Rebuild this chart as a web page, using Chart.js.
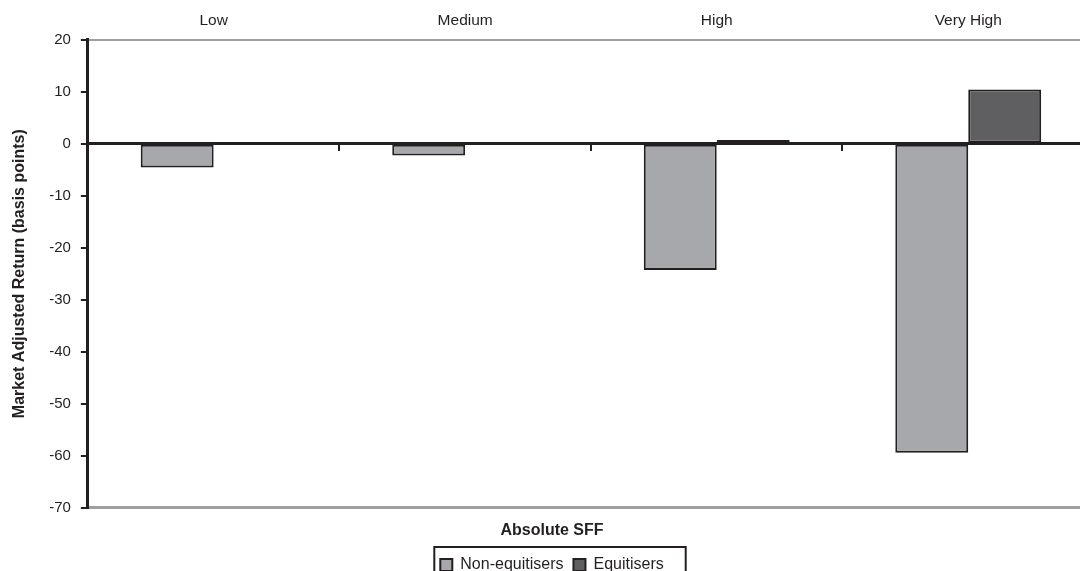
<!DOCTYPE html>
<html>
<head>
<meta charset="utf-8">
<script src="https://cdn.jsdelivr.net/npm/chart.js@4.4.1/dist/chart.umd.min.js"></script>
<style>
  html, body { margin: 0; padding: 0; background: #fff; }
  #wrap { width: 1080px; height: 571px; overflow: hidden; position: relative; }
  canvas { display: block; }
</style>
</head>
<body>
<div id="wrap"><canvas id="sffChart" width="1094" height="583"></canvas></div>
<script>
// values
const categories = ['Low', 'Medium', 'High', 'Very High'];
const nonEquitisers = [-4.6, -2.3, -24.3, -59.4];
const equitisers = [0.3, 0.2, 0.7, 10.4];
const yMin = -70;
const yMax = 20;
const yStep = 10;

const ink = '#231f20';
const rule = '#9d9ea1';

Chart.defaults.font.family = '"Liberation Sans", Arial, sans-serif';
Chart.defaults.color = ink;

// draws the thin frame that sits round the legend
const legendFrame = {
    id: 'legendFrame',
    afterDraw(chart) {
        const boxes = chart.legend.legendHitBoxes;
        if (!boxes || !boxes.length) return;
        const left = Math.min(...boxes.map(b => b.left)) - 6;
        const right = Math.max(...boxes.map(b => b.left + b.width)) + 22;
        const top = boxes[0].top - 10;
        const ctx = chart.ctx;
        ctx.save();
        ctx.strokeStyle = ink;
        ctx.lineWidth = 2;
        ctx.strokeRect(left, top, right - left, 60);
        ctx.restore();
    }
};

const data = {
    labels: categories,
    datasets: [
        {
            label: 'Non-equitisers',
            data: nonEquitisers,
            backgroundColor: '#a7a8ab',
            borderColor: ink,
            borderWidth: 2,
            borderSkipped: false
        },
        {
            label: 'Equitisers',
            data: equitisers,
            backgroundColor: '#5f5f62',
            borderColor: ink,
            borderWidth: 2,
            borderSkipped: false
        }
    ]
};

const config = {
    type: 'bar',
    data: data,
    options: {
        responsive: false,
        animation: false,
        categoryPercentage: 0.58,
        barPercentage: 1.0,
        layout: { padding: { left: 10, top: 1, right: 0, bottom: 0 } },
        plugins: {
            tooltip: { enabled: false },
            title: {
                display: true,
                text: 'Absolute SFF',
                position: 'bottom',
                weight: 500,
                color: ink,
                font: { size: 16, weight: 'bold' },
                padding: { top: 13, bottom: 7 }
            },
            legend: {
                position: 'bottom',
                labels: {
                    boxWidth: 12,
                    boxHeight: 12,
                    padding: 10,
                    color: ink,
                    font: { size: 16 }
                }
            }
        },
        scales: {
            x: {
                position: 'bottom',
                ticks: { display: false },
                grid: { drawOnChartArea: false, drawTicks: false },
                border: { color: rule, width: 3 }
            },
            xTop: {
                type: 'category',
                position: 'top',
                offset: true,
                ticks: { color: ink, font: { size: 15.5 }, padding: 10 },
                grid: { drawOnChartArea: false, drawTicks: false, offset: true },
                border: { color: rule, width: 2 }
            },
            xZero: {
                type: 'category',
                position: { y: 0 },
                offset: true,
                z: 1,
                ticks: { display: false },
                grid: {
                    drawOnChartArea: false,
                    drawTicks: true,
                    offset: true,
                    tickLength: 6,
                    tickColor: ink,
                    lineWidth: 2
                },
                border: { color: ink, width: 3 }
            },
            y: {
                min: yMin,
                max: yMax,
                ticks: { stepSize: yStep, color: ink, font: { size: 15 }, padding: 10 },
                grid: { drawOnChartArea: false, tickLength: 7, tickColor: ink, lineWidth: 2 },
                border: { color: ink, width: 3 },
                title: {
                    display: true,
                    text: 'Market Adjusted Return (basis points)',
                    color: ink,
                    font: { size: 16, weight: 'bold' },
                    padding: { top: 0, bottom: 10 }
                }
            }
        }
    },
    plugins: [legendFrame]
};

new Chart(document.getElementById('sffChart'), config);
</script>
</body>
</html>
